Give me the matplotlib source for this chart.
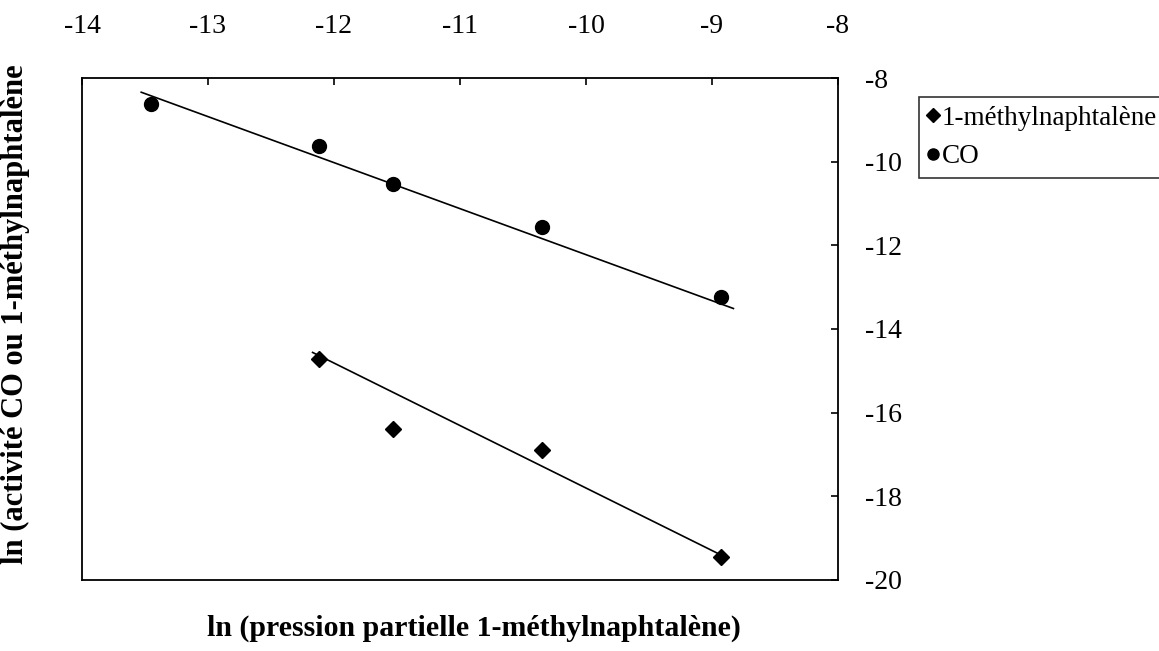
import matplotlib
matplotlib.use("Agg")
import matplotlib.pyplot as plt
from matplotlib.ticker import FixedLocator

# ---- data ----
x_ticks = [-14, -13, -12, -11, -10, -9, -8]
y_ticks = [-8, -10, -12, -14, -16, -18, -20]

mn_x = [-12.12, -11.53, -10.35, -8.93]
mn_y = [-14.71, -16.40, -16.89, -19.44]

co_x = [-13.45, -12.12, -11.53, -10.35, -8.93]
co_y = [-8.63, -9.63, -10.54, -11.55, -13.24]

# trend lines (end points)
mn_line_x = [-12.17, -8.93]
mn_line_y = [-14.56, -19.40]
co_line_x = [-13.53, -8.83]
co_line_y = [-8.34, -13.51]

labels = ["1-méthylnaphtalène", "CO"]
xlabel = "ln (pression partielle 1-méthylnaphtalène)"
ylabel = "ln (activité CO ou 1-méthylnaphtalène"

plt.rcParams['font.family'] = ['Liberation Serif', 'DejaVu Serif']

W, H = 1159, 651
fig = plt.figure(figsize=(W / 100, H / 100), dpi=100)
ax = fig.add_axes([82 / W, 1 - 580 / H, (838 - 82) / W, (580 - 78) / H])

ax.plot(mn_line_x, mn_line_y, color='black', lw=1.2)
ax.plot(co_line_x, co_line_y, color='black', lw=1.2)
h1, = ax.plot(mn_x, mn_y, linestyle='none', marker='D', color='black', markersize=8.5)
h2, = ax.plot(co_x, co_y, linestyle='none', marker='o', color='black', markersize=10)

ax.set_xlim(-14, -8)
ax.set_ylim(-20, -8)

ax.xaxis.set_major_locator(FixedLocator(x_ticks))
ax.yaxis.set_major_locator(FixedLocator(y_ticks))
ax.set_xticklabels([str(v) for v in x_ticks])
ax.set_yticklabels([str(v) for v in y_ticks])

ax.tick_params(axis='x', which='both', top=True, bottom=False, labeltop=True,
               labelbottom=False, direction='in', length=5, width=1.2,
               labelsize=20, pad=28)
ax.tick_params(axis='y', which='both', right=True, left=False, labelright=True,
               labelleft=False, direction='in', length=5, width=1.2,
               labelsize=20, pad=19.5)
for sp in ax.spines.values():
    sp.set_linewidth(1.3)
    sp.set_color('black')

fig.text(474 / W, 1 - 628 / H, xlabel, ha='center', va='center',
         fontsize=21.5, fontweight='bold')
fig.text(15 / W, 1 - 314 / H, ylabel, ha='center', va='center',
         rotation=90, fontsize=22, fontweight='bold')

leg = fig.legend([h1, h2], labels, loc='upper left',
                 bbox_to_anchor=(919 / W, 1 - 97 / H), borderaxespad=0,
                 frameon=True, fancybox=False, fontsize=19.5, handlelength=0.4,
                 handletextpad=0.12, markerscale=0.8, borderpad=0.33,
                 labelspacing=0.5)
leg.get_frame().set_edgecolor('black')
leg.get_frame().set_linewidth(1.2)

fig.savefig('out.png', dpi=100)
